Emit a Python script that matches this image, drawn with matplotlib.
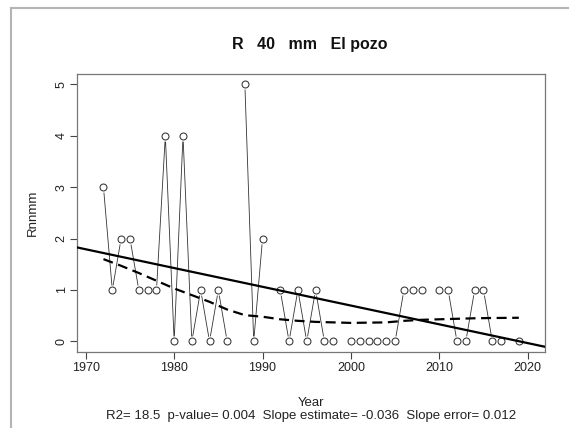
import matplotlib.pyplot as plt
import numpy as np
from matplotlib.lines import Line2D

plt.rcParams['font.family'] = ['Liberation Sans', 'DejaVu Sans']

# Дані: кількість днів з опадами > 40 мм, станція El pozo
years = np.arange(1972, 2020)
values = [3, 1, 2, 2, 1, 1, 1, 4, 0, 4, 0, 1, 0, 1, 0, np.nan,
          5, 0, 2, np.nan, 1, 0, 1, 0, 1, 0, 0, np.nan,
          0, 0, 0, 0, 0, 0, 1, 1, 1, np.nan,
          1, 1, 0, 0, 1, 1, 0, 0, np.nan, 0]
values = np.array(values, dtype=float)

# Згладжена крива
smooth_years = [1972, 1974, 1976, 1978, 1980, 1982, 1984, 1986, 1988, 1990,
                1992, 1994, 1996, 1998, 2000, 2002, 2004, 2006, 2008, 2010,
                2012, 2014, 2016, 2019]
smooth_vals = [1.60, 1.47, 1.33, 1.18, 1.03, 0.90, 0.77, 0.62, 0.51, 0.48,
               0.43, 0.40, 0.38, 0.37, 0.36, 0.365, 0.37, 0.40, 0.42, 0.43,
               0.44, 0.45, 0.455, 0.46]

x_ticks = [1970, 1980, 1990, 2000, 2010, 2020]
y_ticks = [0, 1, 2, 3, 4, 5]

title = 'R   40   mm   El pozo'
sub = 'R2= 18.5  p-value= 0.004  Slope estimate= -0.036  Slope error= 0.012'

W, H = 569, 428
fig = plt.figure(figsize=(W / 100, H / 100), dpi=100)
ax = fig.add_axes([77.3 / W, 1 - 351.7 / H, (545 - 77.3) / W, (351.7 - 74) / H])

# Лінія з розривами біля точок (як type="b" в R)
ax.plot(years, values, color='#333333', lw=0.6, zorder=1)
ax.plot(years, values, 'o', ms=7.4, mfc='white', mec='none', zorder=2)
ax.plot(years, values, 'o', ms=5.0, mfc='white', mec='#333333', mew=0.75, zorder=3)

# Лінійний тренд
mask = ~np.isnan(values)
slope, intercept = np.polyfit(years[mask], values[mask], 1)
xl = np.array([1969.04, 2021.96])
ax.plot(xl, intercept + slope * xl, color='black', lw=1.6, zorder=4)

# Згладжена крива
ax.plot(smooth_years, smooth_vals, color='black', lw=1.6, dashes=(4.5, 2.5), zorder=4)

ax.set_xlim(1969.04, 2021.96)
ax.set_ylim(-0.2, 5.2)
ax.set_xticks(x_ticks)
ax.set_yticks(y_ticks)
ax.set_yticklabels([str(v) for v in y_ticks], rotation=90, va='center')
ax.tick_params(direction='out', length=5, width=0.8, color='#444444',
               labelsize=9, labelcolor='#222222')
ax.tick_params(axis='x', pad=2.5)
ax.tick_params(axis='y', pad=2)
for s in ax.spines.values():
    s.set_color('#777777')
    s.set_linewidth(0.9)

# Підписи
fig.text(310 / W, 1 - 49 / H, title, ha='center', va='baseline',
         fontsize=11.5, fontweight='bold', color='#111111')
fig.text(311 / W, 1 - 405.5 / H, 'Year', ha='center', va='baseline',
         fontsize=9.5, color='#222222')
fig.text(311 / W, 1 - 419.3 / H, sub, ha='center', va='baseline',
         fontsize=9.5, color='#222222')
fig.text(33 / W, 1 - 213 / H, 'Rnnmm', ha='center', va='center',
         rotation=90, fontsize=9.5, color='#222222')

# Рамка навколо скриншоту
fig.add_artist(Line2D([11 / W, 1], [1 - 8 / H, 1 - 8 / H], color='#b4b4b4', lw=1.5))
fig.add_artist(Line2D([11 / W, 11 / W], [0, 1 - 8 / H], color='#b4b4b4', lw=1.5))

fig.savefig('out.png', dpi=100)
